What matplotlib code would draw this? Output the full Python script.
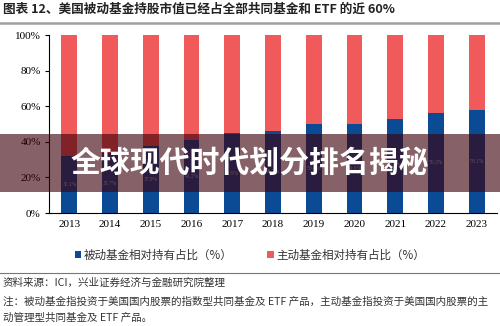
import matplotlib

matplotlib.use("Agg")
import matplotlib.pyplot as plt
from matplotlib.patches import Rectangle
import numpy as np

CJK = ["Noto Sans CJK SC", "DejaVu Sans"]
SERIF = ["Liberation Serif", "Noto Sans CJK SC"]

years = ["2013", "2014", "2015", "2016", "2017", "2018", "2019", "2020", "2021", "2022", "2023"]
passive = [32.1, 33.7, 37.9, 41.2, 44.9, 46.2, 50.0, 49.9, 53.0, 56.3, 58.1]
active = [67.9, 66.3, 62.1, 58.8, 55.1, 53.8, 50.0, 50.1, 47.0, 43.7, 41.9]
yticks = [0, 20, 40, 60, 80, 100]

title = "图表 12、美国被动基金持股市值已经占全部共同基金和 ETF 的近 60%"
legend_labels = ["被动基金相对持有占比（%）", "主动基金相对持有占比（%）"]
source = "资料来源：ICI，兴业证券经济与金融研究院整理"
note1 = "注：被动基金指投资于美国国内股票的指数型共同基金及 ETF 产品，主动基金指投资于美国国内股票的主"
note2 = "动管理型共同基金及 ETF 产品。"
banner = "全球现代时代划分排名揭秘"

BLUE = "#0b4b95"
RED = "#f05a5a"

fig = plt.figure(figsize=(5.0, 3.26), dpi=100)
ax = fig.add_axes([0.098, 0.3466, 0.896, 0.546])

x = np.arange(len(years))
ax.bar(x, passive, width=0.39, color=BLUE, label=legend_labels[0])
ax.bar(x, active, width=0.39, bottom=passive, color=RED, label=legend_labels[1])
for xi, v in zip(x, passive):
    ax.text(xi, v / 2, f"{v:.1f}%", ha="center", va="center",
            fontsize=4, color="#c8c8d0", family=SERIF)

ax.set_xlim(-0.5, 10.5)
ax.set_ylim(0, 100)
ax.set_xticks(x)
ax.set_xticklabels(years, family=SERIF, fontsize=8)
ax.set_yticks(yticks)
ax.set_yticklabels([f"{t}%" for t in yticks], family=SERIF, fontsize=8)
ax.tick_params(axis="x", length=0, pad=5)
ax.tick_params(axis="y", length=3, width=0.8, pad=3)
for s in ("top", "right"):
    ax.spines[s].set_visible(False)
ax.spines["left"].set_linewidth(0.8)
ax.spines["bottom"].set_linewidth(0.8)

leg = fig.legend(loc="center", bbox_to_anchor=(0.5, 0.218), ncol=2, frameon=False,
                 prop={"family": CJK, "size": 8.3}, handlelength=0.55, handleheight=0.55,
                 handletextpad=0.25, columnspacing=3.0)
for t in leg.get_texts():
    t.set_color("#333333")

# title and rules
fig.text(0.006, 0.972, title, ha="left", va="center", fontsize=9.1,
         fontweight="bold", family=CJK, color="#222222")
fig.add_artist(plt.Line2D([0, 1], [0.928, 0.928], color="#a0a0a0", lw=1.8))
fig.add_artist(plt.Line2D([0, 1], [0.163, 0.163], color="#777777", lw=0.8))

fig.text(0.006, 0.132, source, ha="left", va="center", fontsize=7.6, family=CJK, color="#333333")
fig.text(0.006, 0.074, note1, ha="left", va="center", fontsize=7.6, family=CJK, color="#333333")
fig.text(0.006, 0.025, note2, ha="left", va="center", fontsize=7.6, family=CJK, color="#333333")

# overlay banner
fig.add_artist(Rectangle((0, 1 - 192 / 326), 1, 58 / 326, transform=fig.transFigure,
                         facecolor="#3c000a", alpha=0.62, edgecolor="none", zorder=10))
fig.text(0.5, 1 - 163 / 326, banner, ha="center", va="center", fontsize=21.5,
         fontweight="heavy", family=CJK, color="white", zorder=11)

fig.savefig("out.png", dpi=100)
